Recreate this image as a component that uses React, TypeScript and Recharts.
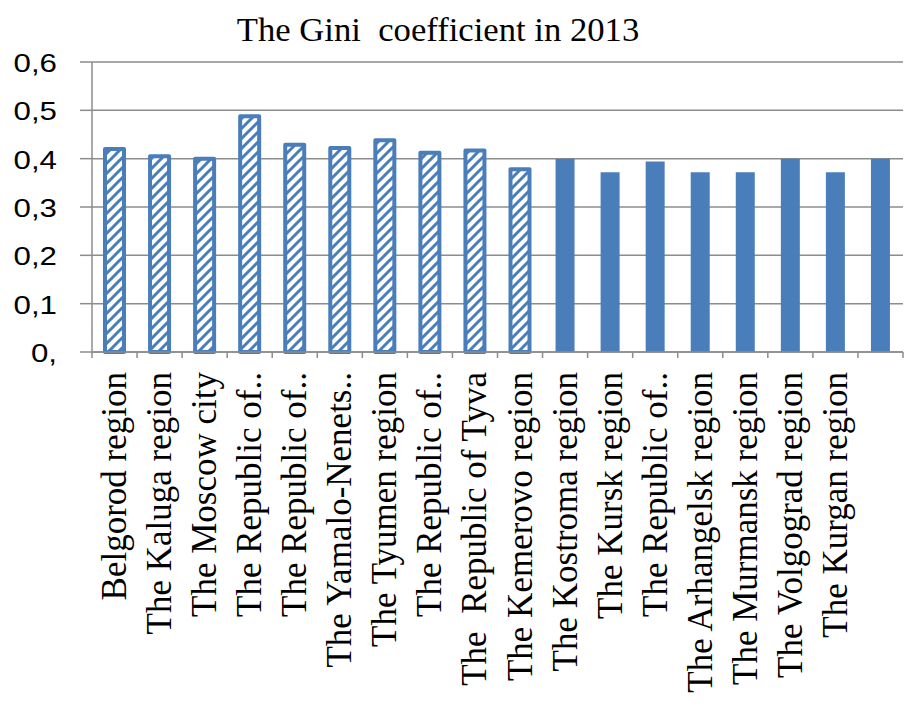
import React from "react";
import { BarChart, Bar, XAxis, YAxis, CartesianGrid, Cell } from "recharts";

const regions = [
  "Belgorod region",
  "The Kaluga region",
  "The Moscow city",
  "The Republic of..",
  "The Republic of..",
  "The Yamalo-Nenets..",
  "The Tyumen region",
  "The Republic of..",
  "The  Republic of Tyva",
  "The Kemerovo region",
  "The Kostroma region",
  "The Kursk region",
  "The Republic of..",
  "The Arhangelsk region",
  "The Murmansk region",
  "The Volgograd region",
  "The Kurgan region",
  "",
];
const giniValues = [
  0.42, 0.405, 0.4, 0.488, 0.429, 0.422, 0.438, 0.412, 0.417, 0.378,
  0.4, 0.372, 0.394, 0.372, 0.372, 0.4, 0.372, 0.4,
];
const hatchedFlags = [
  true, true, true, true, true, true, true, true, true, true,
  false, false, false, false, false, false, false, false,
];
const yTicks = [0, 0.1, 0.2, 0.3, 0.4, 0.5, 0.6];
const title = "The Gini  coefficient in 2013";

const data = regions.map((name, i) => ({ name, value: giniValues[i], hatched: hatchedFlags[i] }));

const BLUE = "#4a7ebb";
const GRID = "#8c8c8c";
const W = 905;
const H = 709;
const M = { top: 62, right: 2, left: 0, bottom: 0 };
const Y_W = 92;
const X_H = 357;
const BAND = (W - M.right - Y_W) / regions.length;
const SERIF = "'Liberation Serif', 'Times New Roman', serif";

const XTick = (props: any) => {
  const { x, y, payload, index } = props;
  const left = x - BAND / 2;
  return (
    <g>
      <line x1={left} y1={y} x2={left} y2={y + 6} stroke={GRID} strokeWidth={1.5} />
      {index === regions.length - 1 && (
        <line x1={x + BAND / 2} y1={y} x2={x + BAND / 2} y2={y + 6} stroke={GRID} strokeWidth={1.5} />
      )}
      <g transform={`translate(${x},${y + 20})`}>
        <text
          transform="rotate(-90)"
          textAnchor="end"
          dominantBaseline="central"
          x={0}
          y={0}
          fontSize={35}
          fontFamily={SERIF}
          fill="#000"
          style={{ whiteSpace: "pre" }}
        >
          {payload.value}
        </text>
      </g>
    </g>
  );
};

const fmt = (v: number) => (v === 0 ? "0," : v.toFixed(1).replace(".", ","));

const YTick = (props: any) => {
  const { x, y, payload } = props;
  return (
    <g transform={`translate(${x},${y + 1})`}>
      <text
        transform="scale(1.25,1)"
        textAnchor="end"
        dominantBaseline="central"
        fontSize={25}
        fontFamily="'Liberation Sans', Arial, sans-serif"
        fill="#000"
      >
        {fmt(payload.value)}
      </text>
    </g>
  );
};

export default function App() {
  return (
    <div style={{ position: "absolute", left: 0, top: 0, width: W, height: H, background: "#fff" }}>
      <div
        style={{
          position: "absolute",
          left: 0,
          top: 14,
          width: 876,
          textAlign: "center",
          fontFamily: SERIF,
          fontSize: 33,
          lineHeight: "33px",
          whiteSpace: "pre",
          color: "#000",
          transform: "scaleX(1.05)",
        }}
      >
        {title}
      </div>
      <BarChart width={W} height={H} data={data} margin={M}>
        <defs>
          <pattern id="hatch" patternUnits="userSpaceOnUse" width="10" height="10">
            <rect width="10" height="10" fill="#fff" />
            <path d="M-2.5,2.5 L2.5,-2.5 M0,10 L10,0 M7.5,12.5 L12.5,7.5" stroke={BLUE} strokeWidth={3} />
          </pattern>
        </defs>
        <CartesianGrid vertical={false} stroke={GRID} strokeWidth={1.5} />
        <XAxis
          dataKey="name"
          interval={0}
          height={X_H}
          tickSize={0}
          tickMargin={0}
          tickLine={false}
          axisLine={{ stroke: GRID, strokeWidth: 1.5 }}
          tick={<XTick />}
        />
        <YAxis
          domain={[0, 0.6]}
          ticks={yTicks}
          width={Y_W}
          tickSize={12}
          tickMargin={23}
          tickLine={{ stroke: GRID, strokeWidth: 1.5 }}
          axisLine={{ stroke: GRID, strokeWidth: 1.5 }}
          tick={<YTick />}
        />
        <Bar dataKey="value" barSize={19} isAnimationActive={false}>
          {data.map((d, i) => (
            <Cell
              key={i}
              fill={d.hatched ? "url(#hatch)" : BLUE}
              stroke={d.hatched ? BLUE : "none"}
              strokeWidth={d.hatched ? 4 : 0}
              strokeLinejoin="round"
            />
          ))}
        </Bar>
      </BarChart>
    </div>
  );
}
